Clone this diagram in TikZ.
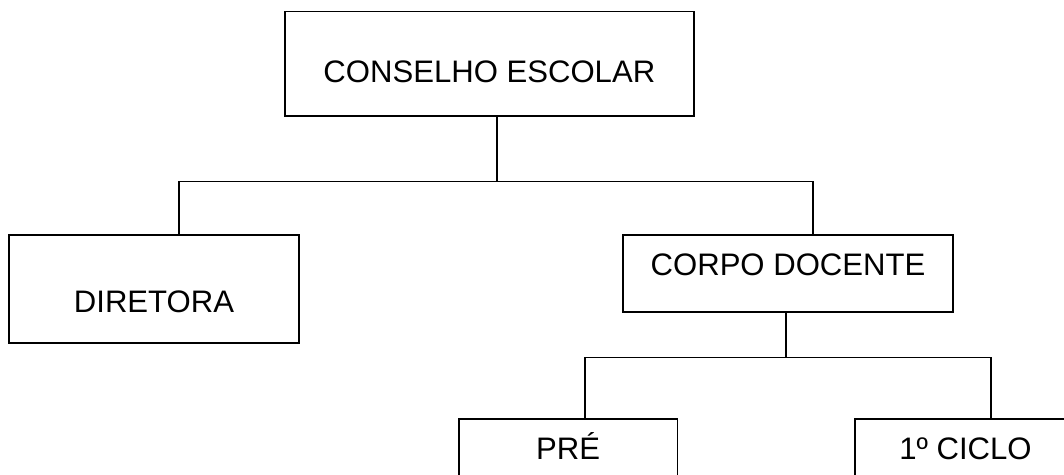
\documentclass[tikz,border=0pt]{standalone}
\usepackage{fontspec}
\setmainfont{Liberation Sans}
\usetikzlibrary{calc}

\tikzset{
  box/.style={draw, line width=1pt, inner sep=0pt, align=center, font=\fontsize{17.7}{21}\selectfont},
  link/.style={line width=1pt}
}

\begin{document}
\begin{tikzpicture}[x=0.02cm, y=-0.02cm, line join=miter]

\useasboundingbox (0,0) rectangle (1064,475);
\clip (0,0) rectangle (1064,475);

\node (conselho) at (489.35, 63.65) [box, minimum width=8.19cm, minimum height=2.09cm, text height=21.8pt, text depth=0pt] {CONSELHO ESCOLAR};
\node (diretora) at (154, 289.3) [box, minimum width=5.8cm, minimum height=2.16cm, text height=26.8pt, text depth=0pt] {DIRETORA};
\node (corpo) at (788, 273.5) [box, minimum width=6.61cm, minimum height=1.53cm, text height=12.7pt, text depth=10pt] {CORPO DOCENTE};
\node (pre) at (568.2, 457.5) [box, minimum width=4.37cm, minimum height=1.53cm, text height=12.7pt, text depth=10pt] {PRÉ};
\node (ciclo) at (965.5, 457.5) [box, minimum width=4.42cm, minimum height=1.53cm, text height=12.7pt, text depth=10pt] {1º CICLO};

% first level
\coordinate (bus) at (497.3, 181.5);
\coordinate (busL) at (179, 181.5);
\coordinate (busR) at (813.3, 181.5);

\draw[link] (bus |- conselho.south) -- (bus);
\draw[link] (busL |- diretora.north) -- (busL) -- (busR) -- (busR |- corpo.north);

% second level
\coordinate (sub) at (785.7, 357.5);
\coordinate (subL) at (585, 357.5);
\coordinate (subR) at (991, 357.5);

\draw[link] (sub |- corpo.south) -- (sub);
\draw[link] (subL |- pre.north) -- (subL) -- (subR) -- (subR |- ciclo.north);

\end{tikzpicture}
\end{document}
